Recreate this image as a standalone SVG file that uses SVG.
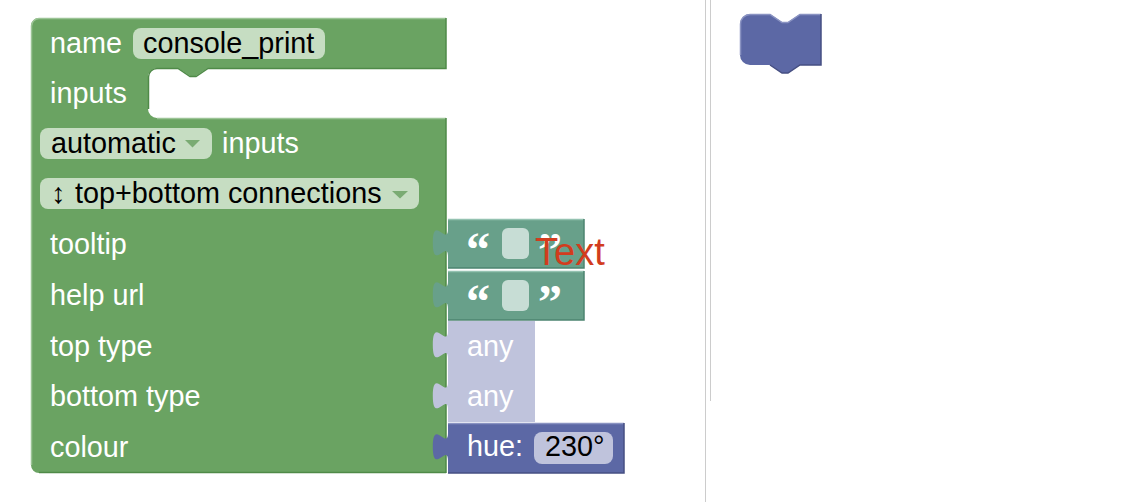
<svg xmlns="http://www.w3.org/2000/svg" width="1142" height="502" viewBox="0 0 1142 502">
<style>
text { font-family: "Liberation Sans", Arial, "DejaVu Sans", sans-serif; font-size: 28.8px; }
.lbl { fill: #ffffff; }
.fld { fill: #000000; }
.gfield { fill: #c6ddc2; }
.tri { fill: #7aab73; }
.green { fill: #6aa362; }
.teal { fill: #68a08a; }
.lav { fill: #bfc3dc; }
.blue { fill: #5c68a5; }
.qt { font-family: "Liberation Serif", "DejaVu Serif", serif; font-weight: bold; font-size: 48px; fill: #ffffff; }
.tfield { fill: #c7ddd5; }
.hl { fill: none; stroke-width: 1.5; }
</style>

<g id="dividers">
  <line x1="705.5" y1="0" x2="705.5" y2="502" stroke="#cccccc" stroke-width="1"/>
  <line x1="710.5" y1="0" x2="710.5" y2="401" stroke="#cccccc" stroke-width="1"/>
</g>

<g id="factory_base">
  <path class="green" d="M 31 26 A 8 8 0 0 1 39 18 L 446 18 L 446 68 L 208 68 L 196 76 L 190 76 L 178 68 L 157 68 A 9 9 0 0 0 148 77 L 148 109 A 9 9 0 0 0 157 118 L 446 118 L 446 473 L 39 473 A 8 8 0 0 1 31 465 Z"/>
  <path class="hl" stroke="#9cc496" d="M 31.5 465 L 31.5 26 A 7.5 7.5 0 0 1 39 18.5 L 446 18.5 M 157 118.5 L 446 118.5"/>
  <path class="hl" stroke="#4f8a48" d="M 446 18 L 446 68.5 L 208 68.5 L 196 76.5 L 190 76.5 L 178 68.5 L 157 68.5 A 8.5 8.5 0 0 0 148.5 77 L 148.5 109 M 446 118 L 446 473 M 39 472.5 L 446 472.5"/>
  <text class="lbl" x="50" y="53">name</text>
  <rect class="gfield" x="133" y="28" width="192" height="31" rx="8"/>
  <text class="fld" x="143" y="53">console_print</text>
  <text class="lbl" x="50" y="102.5">inputs</text>
  <rect class="gfield" x="40" y="128" width="172" height="31" rx="8"/>
  <text class="fld" x="51" y="152.5">automatic</text>
  <polygon class="tri" points="185,140 200,140 192.5,147.5"/>
  <text class="lbl" x="222" y="152.5">inputs</text>
  <rect class="gfield" x="40" y="178" width="379" height="31" rx="8"/>
  <text class="fld" y="202.5"><tspan x="51">↕ </tspan><tspan x="75">top+bottom connections</tspan></text>
  <polygon class="tri" points="392,191 408,191 400,198.5"/>
  <text class="lbl" x="50" y="253.5">tooltip</text>
  <text class="lbl" x="50" y="304.5">help url</text>
  <text class="lbl" x="50" y="356">top type</text>
  <text class="lbl" x="50" y="406">bottom type</text>
  <text class="lbl" x="50" y="457">colour</text>
</g>

<g id="text_tooltip">
  <path class="teal" d="M 448 219 H 584 V 268 H 448 V 257 c 0,-19 -15.2,15.2 -15.2,-14.25 s 15.2,4.75 15.2,-14.25 Z"/>
  <path class="hl" stroke="#94c2b1" d="M 448 219.5 H 584"/>
  <path class="hl" stroke="#4c8470" d="M 584 219 V 268 H 448"/>
  <text class="qt" x="466" y="266">“</text>
  <rect class="tfield" x="502" y="228" width="27" height="31" rx="6"/>
  <text class="qt" x="538" y="266">”</text>
</g>

<g id="text_helpurl">
  <path class="teal" d="M 448 271 H 584 V 320 H 448 V 309 c 0,-19 -15.2,15.2 -15.2,-14.25 s 15.2,4.75 15.2,-14.25 Z"/>
  <path class="hl" stroke="#94c2b1" d="M 448 271.5 H 584"/>
  <path class="hl" stroke="#4c8470" d="M 584 271 V 320 H 448"/>
  <text class="qt" x="466" y="318">“</text>
  <rect class="tfield" x="502" y="280" width="27" height="31" rx="6"/>
  <text class="qt" x="538" y="318">”</text>
</g>

<g id="type_top">
  <path class="lav" d="M 448 321 H 535 V 372 H 448 V 359 c 0,-19 -15.2,15.2 -15.2,-14.25 s 15.2,4.75 15.2,-14.25 Z"/>
  <text class="lbl" x="467" y="356">any</text>
</g>

<g id="type_bottom">
  <path class="lav" d="M 448 372 H 535 V 422 H 448 V 410 c 0,-19 -15.2,15.2 -15.2,-14.25 s 15.2,4.75 15.2,-14.25 Z"/>
  <text class="lbl" x="467" y="406">any</text>
</g>

<g id="colour_hue">
  <path class="blue" d="M 448 423 H 624 V 473 H 448 V 461 c 0,-19 -15.2,15.2 -15.2,-14.25 s 15.2,4.75 15.2,-14.25 Z"/>
  <path class="hl" stroke="#8a93c2" d="M 448 423.5 H 624"/>
  <path class="hl" stroke="#464f82" d="M 624 423 V 473 H 448"/>
  <text class="lbl" x="467" y="456">hue:</text>
  <rect class="lav" x="534" y="432" width="79" height="32" rx="8"/>
  <text class="fld" x="545" y="456">230°</text>
</g>

<g id="tooltip_text_label">
  <text x="535" y="265" style="font-size:38px; fill:#d23c1e;">Text</text>
</g>

<g id="preview_block">
  <path class="blue" d="M 740 24 A 10 10 0 0 1 750 14 L 770 14 L 782 22 L 788 22 L 800 14 L 821 14 L 821 65 L 800 65 L 788 73 L 782 73 L 770 65 L 750 65 A 10 10 0 0 1 740 55 Z"/>
  <path class="hl" stroke="#8a93c2" d="M 740.5 55 L 740.5 24 A 9.5 9.5 0 0 1 750 14.5 L 770 14.5 L 782 22.5 L 788 22.5 L 800 14.5 L 821 14.5"/>
  <path class="hl" stroke="#464f82" d="M 821 14 L 821 65 L 800 65 L 788 73 L 782 73 L 770 65"/>
</g>
</svg>
